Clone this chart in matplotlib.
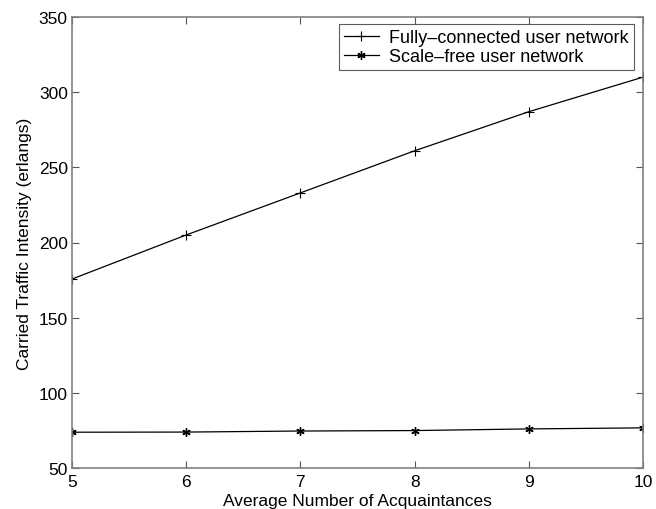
import matplotlib
matplotlib.use("Agg")
import matplotlib.pyplot as plt

plt.rcParams["font.family"] = ["Liberation Sans", "DejaVu Sans"]

# data
acquaintances = [5, 6, 7, 8, 9, 10]
fully_connected = [175.7, 205.0, 233.0, 261.0, 287.0, 310.0]
scale_free = [73.8, 73.9, 74.6, 74.9, 76.0, 76.7]

x_ticks = [5, 6, 7, 8, 9, 10]
y_ticks = [50, 100, 150, 200, 250, 300, 350]

fig = plt.figure(figsize=(6.56, 5.10), dpi=100)
ax = fig.add_axes([72 / 656, 1 - 469 / 510, (643 - 72) / 656, (469 - 18) / 510])

ax.plot(acquaintances, fully_connected, color="black", linewidth=0.9,
        marker="+", markersize=7, markeredgewidth=0.8,
        label="Fully\u2013connected user network")
ax.plot(acquaintances, scale_free, color="black", linewidth=0.9,
        marker=(6, 2, 0), markersize=6, markeredgewidth=1.0,
        label="Scale\u2013free user network")

ax.set_xlim(5, 10)
ax.set_ylim(50, 350)
ax.set_xticks(x_ticks)
ax.set_yticks(y_ticks)

for spine in ax.spines.values():
    spine.set_color("#808080")
    spine.set_linewidth(1.2)
ax.tick_params(direction="in", length=5, width=0.8, color="#555555",
               top=True, right=True, labelsize=12.5)
ax.tick_params(axis="x", pad=4)
ax.tick_params(axis="y", pad=3)

ax.set_xlabel("Average Number of Acquaintances", fontsize=12.5, labelpad=3)
ax.set_ylabel("Carried Traffic Intensity (erlangs)", fontsize=12.5, labelpad=5)

leg = ax.legend(loc="upper right", fontsize=13, frameon=True, fancybox=False,
                bbox_to_anchor=(0.985, 0.985), borderaxespad=0.0,
                handlelength=1.9, handletextpad=0.6,
                borderpad=0.3, labelspacing=0.1)
leg.get_frame().set_edgecolor("#333333")
leg.get_frame().set_linewidth(0.8)

fig.savefig("out.png", dpi=100, facecolor="white")
